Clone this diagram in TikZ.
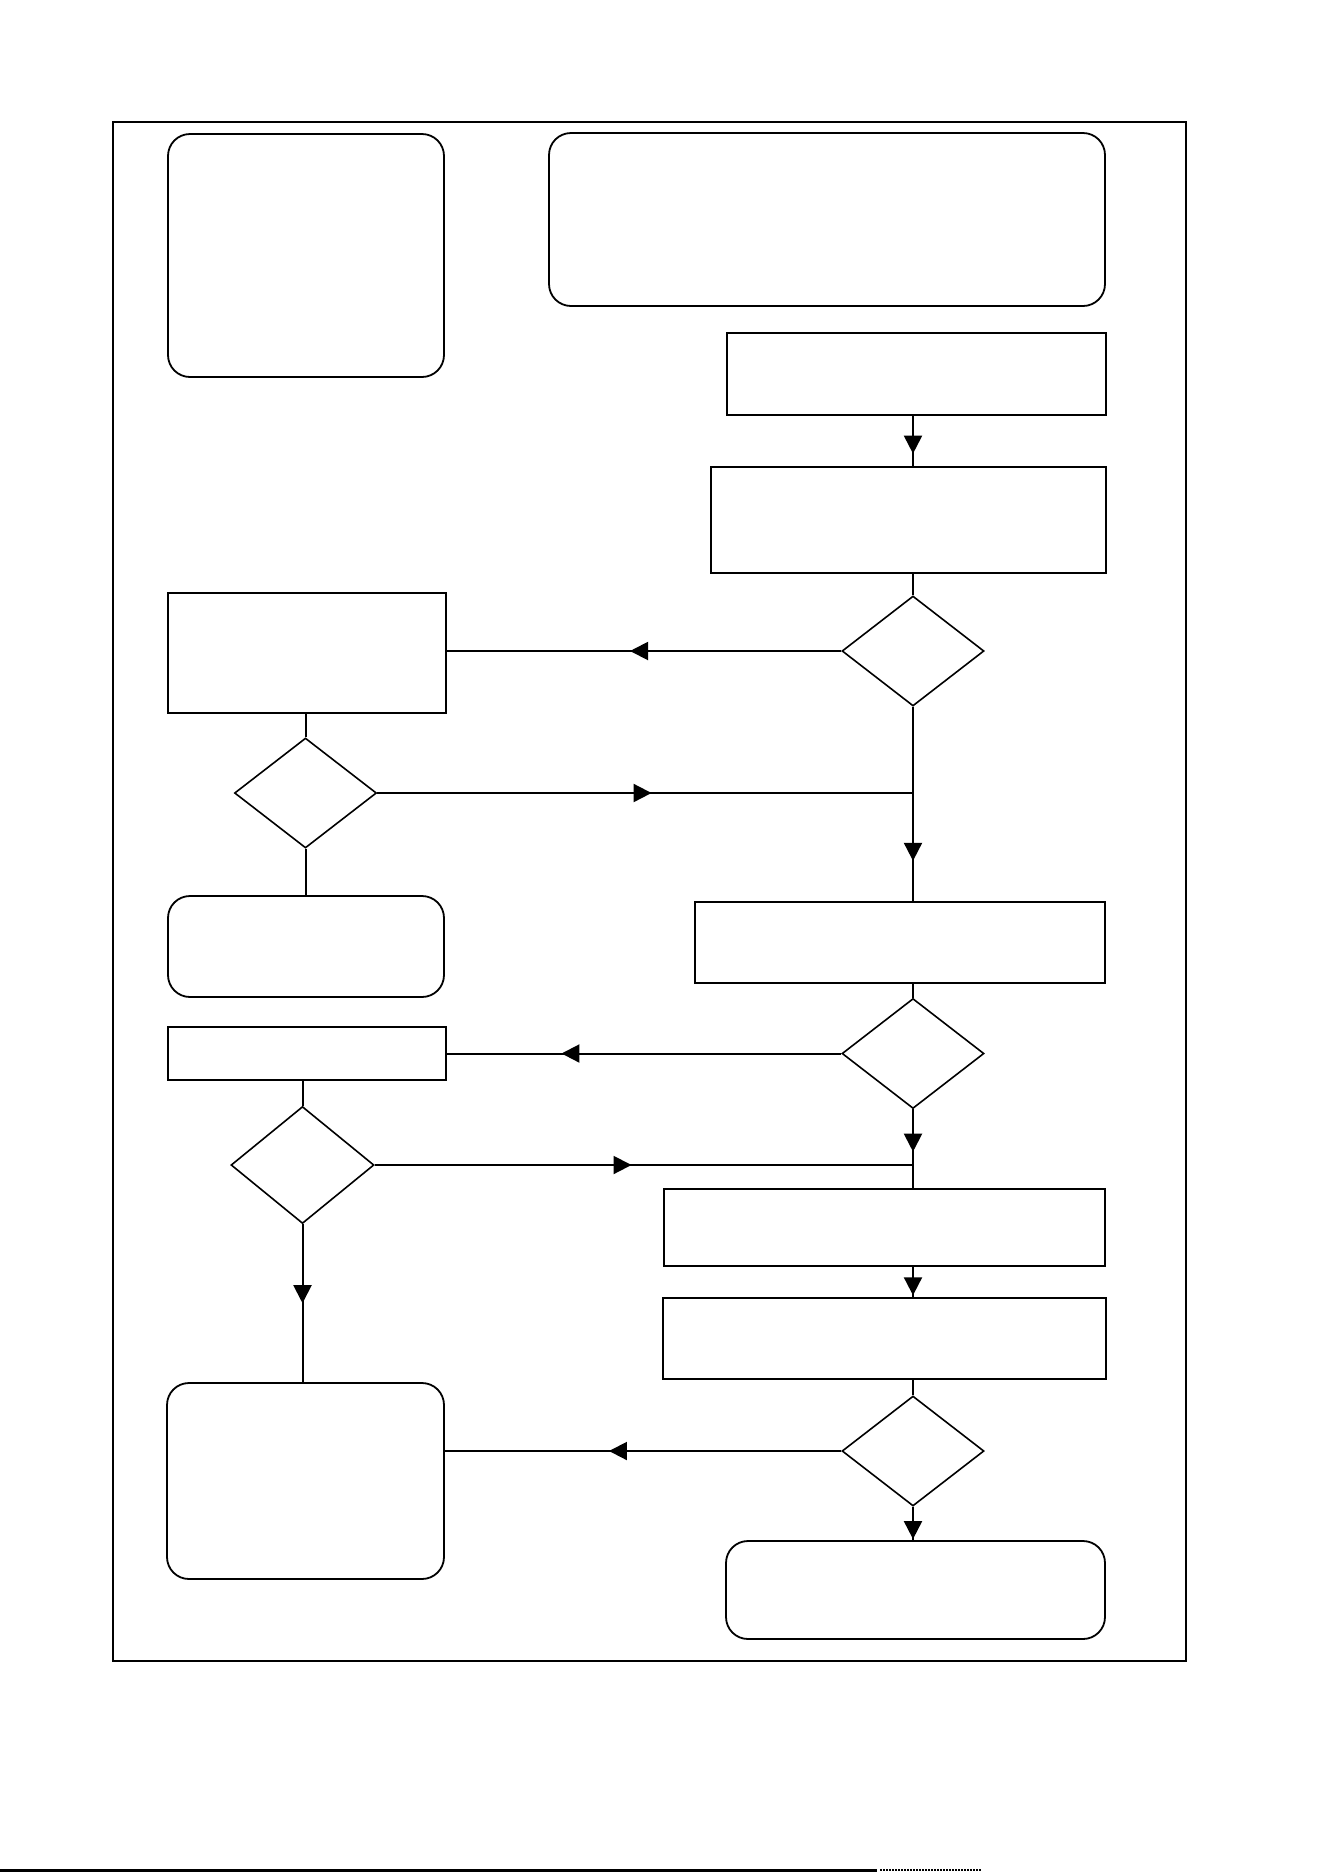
\documentclass[tikz,border=0pt]{standalone}
\usetikzlibrary{arrows.meta,positioning,calc,shapes.geometric,decorations.markings}

\begin{document}
\begin{tikzpicture}[
  x=1pt, y=-1pt,
  proc/.style={draw, line width=2.4pt, inner sep=0pt},
  term/.style={draw, rounded corners=22pt, line width=1.8pt, inner sep=0pt},
  dec/.style={draw, diamond, line width=1.6pt, inner sep=0pt, minimum width=142pt, minimum height=110pt},
  link/.style={line width=2pt},
  arr/.style={link, postaction={decorate},
    decoration={markings, mark=at position #1 with {\arrow{Triangle[length=18pt,width=18pt]}}}},
  arr/.default=0.5
]
\useasboundingbox (0,0) rectangle (1324,1872);
\draw[line width=2pt] (113,122) rectangle (1186,1661);

% left column
\node[term, minimum width=276pt, minimum height=243pt] (legend) at (306,255.5) {};
\node[proc, minimum width=278pt, minimum height=120pt] (alt1) at (307,653) {};
\node[dec] (q2) at (305.5,793) {};
\node[term, minimum width=276pt, minimum height=101pt] (end1) at (306,946.5) {};
\node[proc, minimum width=278pt, minimum height=53pt] (alt2) at (307,1053.5) {};
\node[dec, minimum width=143pt, minimum height=117pt] (q4) at (302.5,1165) {};
\node[term, minimum width=277pt, minimum height=196pt] (end3) at (305.5,1481) {};

% right column
\node[term, minimum width=556pt, minimum height=173pt] (title) at (827,219.5) {};
\node[proc, minimum width=379pt, minimum height=82pt] (s1) at (916.5,374) {};
\node[proc, minimum width=395pt, minimum height=106pt] (s2) at (908.5,520) {};
\node[dec] (q1) at (913,651) {};
\node[proc, minimum width=410pt, minimum height=81pt] (s3) at (900,942.5) {};
\node[dec] (q3) at (913,1053.5) {};
\node[proc, minimum width=441pt, minimum height=77pt] (s4) at (884.5,1227.5) {};
\node[proc, minimum width=443pt, minimum height=81pt] (s5) at (884.5,1338.5) {};
\node[dec] (q5) at (913,1451) {};
\node[term, minimum width=379pt, minimum height=98pt] (end2) at (915.5,1590) {};

\coordinate (j1) at (q1 |- q2.east);
\coordinate (j2) at (q3 |- q4.east);

\draw[arr=0.755] (q1 |- s1.south) -- (q1 |- s2.north);
\draw[link] (q1 |- s2.south) -- (q1.north);
\draw[arr=0.536] (q1.west) -- (q1 -| alt1.east);
\draw[link] (q2 |- alt1.south) -- (q2.north);
\draw[link] (q2.south) -- (q2 |- end1.north);
\draw[arr=0.512] (q2.east) -- (j1);
\draw[arr=0.794] (q1.south) -- (q1 |- s3.north);
\draw[link] (q3 |- s3.south) -- (q3.north);
\draw[arr=0.71] (q3.west) -- (q3 -| alt2.east);
\draw[link] (q4 |- alt2.south) -- (q4.north);
\draw[arr=0.477] (q4.east) -- (j2);
\draw[arr=0.54] (q3.south) -- (q3 |- s4.north);
\draw[arr=0.95] (q3 |- s4.south) -- (q3 |- s5.north);
\draw[link] (q3 |- s5.south) -- (q5.north);
\draw[arr=0.586] (q5.west) -- (q5 -| end3.east);
\draw[arr=0.5] (q4.south) -- (q4 |- end3.north);
\draw[arr=0.97] (q5.south) -- (q5 |- end2.north);

% scan edge at the foot of the page
\draw[line width=3pt] (0,1870) -- (877,1870);
\draw[line width=2pt, densely dotted] (880,1870) -- (981,1870);
\end{tikzpicture}
\end{document}
